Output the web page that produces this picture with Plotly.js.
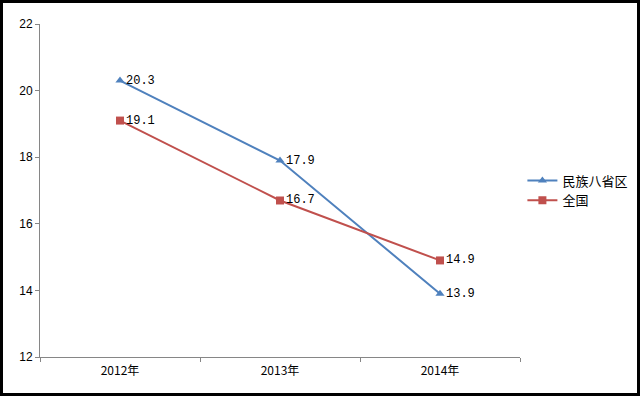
<!DOCTYPE html>
<html><head><meta charset="utf-8">
<script src="https://cdn.plot.ly/plotly-3.0.1.min.js"></script>
<style>
body{margin:0;padding:0;background:#fff;}
#wrap{position:relative;width:640px;height:396px;}
#chart{width:640px;height:396px;}
#frame{position:absolute;left:0;top:0;width:640px;height:396px;box-sizing:border-box;border:3px solid #000;pointer-events:none;}
</style></head>
<body>
<div id="wrap"><div id="chart"></div><div id="frame"></div></div>
<script>
const categories = ["2012年", "2013年", "2014年"];
const minzu = [20.3, 17.9, 13.9];
const quanguo = [19.1, 16.7, 14.9];
const seriesNames = ["民族八省区", "全国"];
const yTicks = [12, 14, 16, 18, 20, 22];

const labelFont = {family: "Liberation Mono, DejaVu Sans Mono, monospace", size: 12, color: "#000"};
const traces = [
  {x: categories, y: minzu, name: seriesNames[0], type: "scatter", mode: "lines+markers+text",
   line: {color: "#4F81BD", width: 2}, marker: {symbol: "triangle-up", size: 8, color: "#4F81BD"},
   text: minzu.map(v => v.toFixed(1)), textposition: "middle right", textfont: labelFont},
  {x: categories, y: quanguo, name: seriesNames[1], type: "scatter", mode: "lines+markers+text",
   line: {color: "#C0504D", width: 2}, marker: {symbol: "square", size: 8, color: "#C0504D"},
   text: quanguo.map(v => v.toFixed(1)), textposition: "middle right", textfont: labelFont}
];
const layout = {
  width: 640, height: 396,
  margin: {l: 40, r: 120, t: 24, b: 39, autoexpand: false},
  paper_bgcolor: "#fff", plot_bgcolor: "#fff",
  font: {family: "Liberation Sans, Arial, sans-serif", size: 12, color: "#000"},
  showlegend: true,
  legend: {x: 1.005, y: 0.5, xanchor: "left", yanchor: "middle", font: {family: "Noto Sans CJK SC", size: 13},
           itemwidth: 30, tracegroupgap: 0, bgcolor: "rgba(0,0,0,0)"},
  xaxis: {type: "category", range: [-0.5, 2.5], tickson: "boundaries", ticks: "outside", ticklen: 4,
          tickcolor: "#868686", showline: true, linecolor: "#868686", linewidth: 1, showgrid: false,
          zeroline: false, fixedrange: true, automargin: false, ticklabelstandoff: 3,
          tickfont: {family: "Noto Sans CJK SC", size: 12}},
  yaxis: {range: [12, 22], tickvals: yTicks, ticks: "outside", ticklen: 4, tickcolor: "#868686",
          showline: true, linecolor: "#868686", linewidth: 1, showgrid: false, zeroline: false, automargin: false,
          tickfont: {family: "Liberation Sans, Arial, sans-serif", size: 12}}
};
Plotly.newPlot("chart", traces, layout, {displayModeBar: false, staticPlot: true});
</script>
</body></html>
